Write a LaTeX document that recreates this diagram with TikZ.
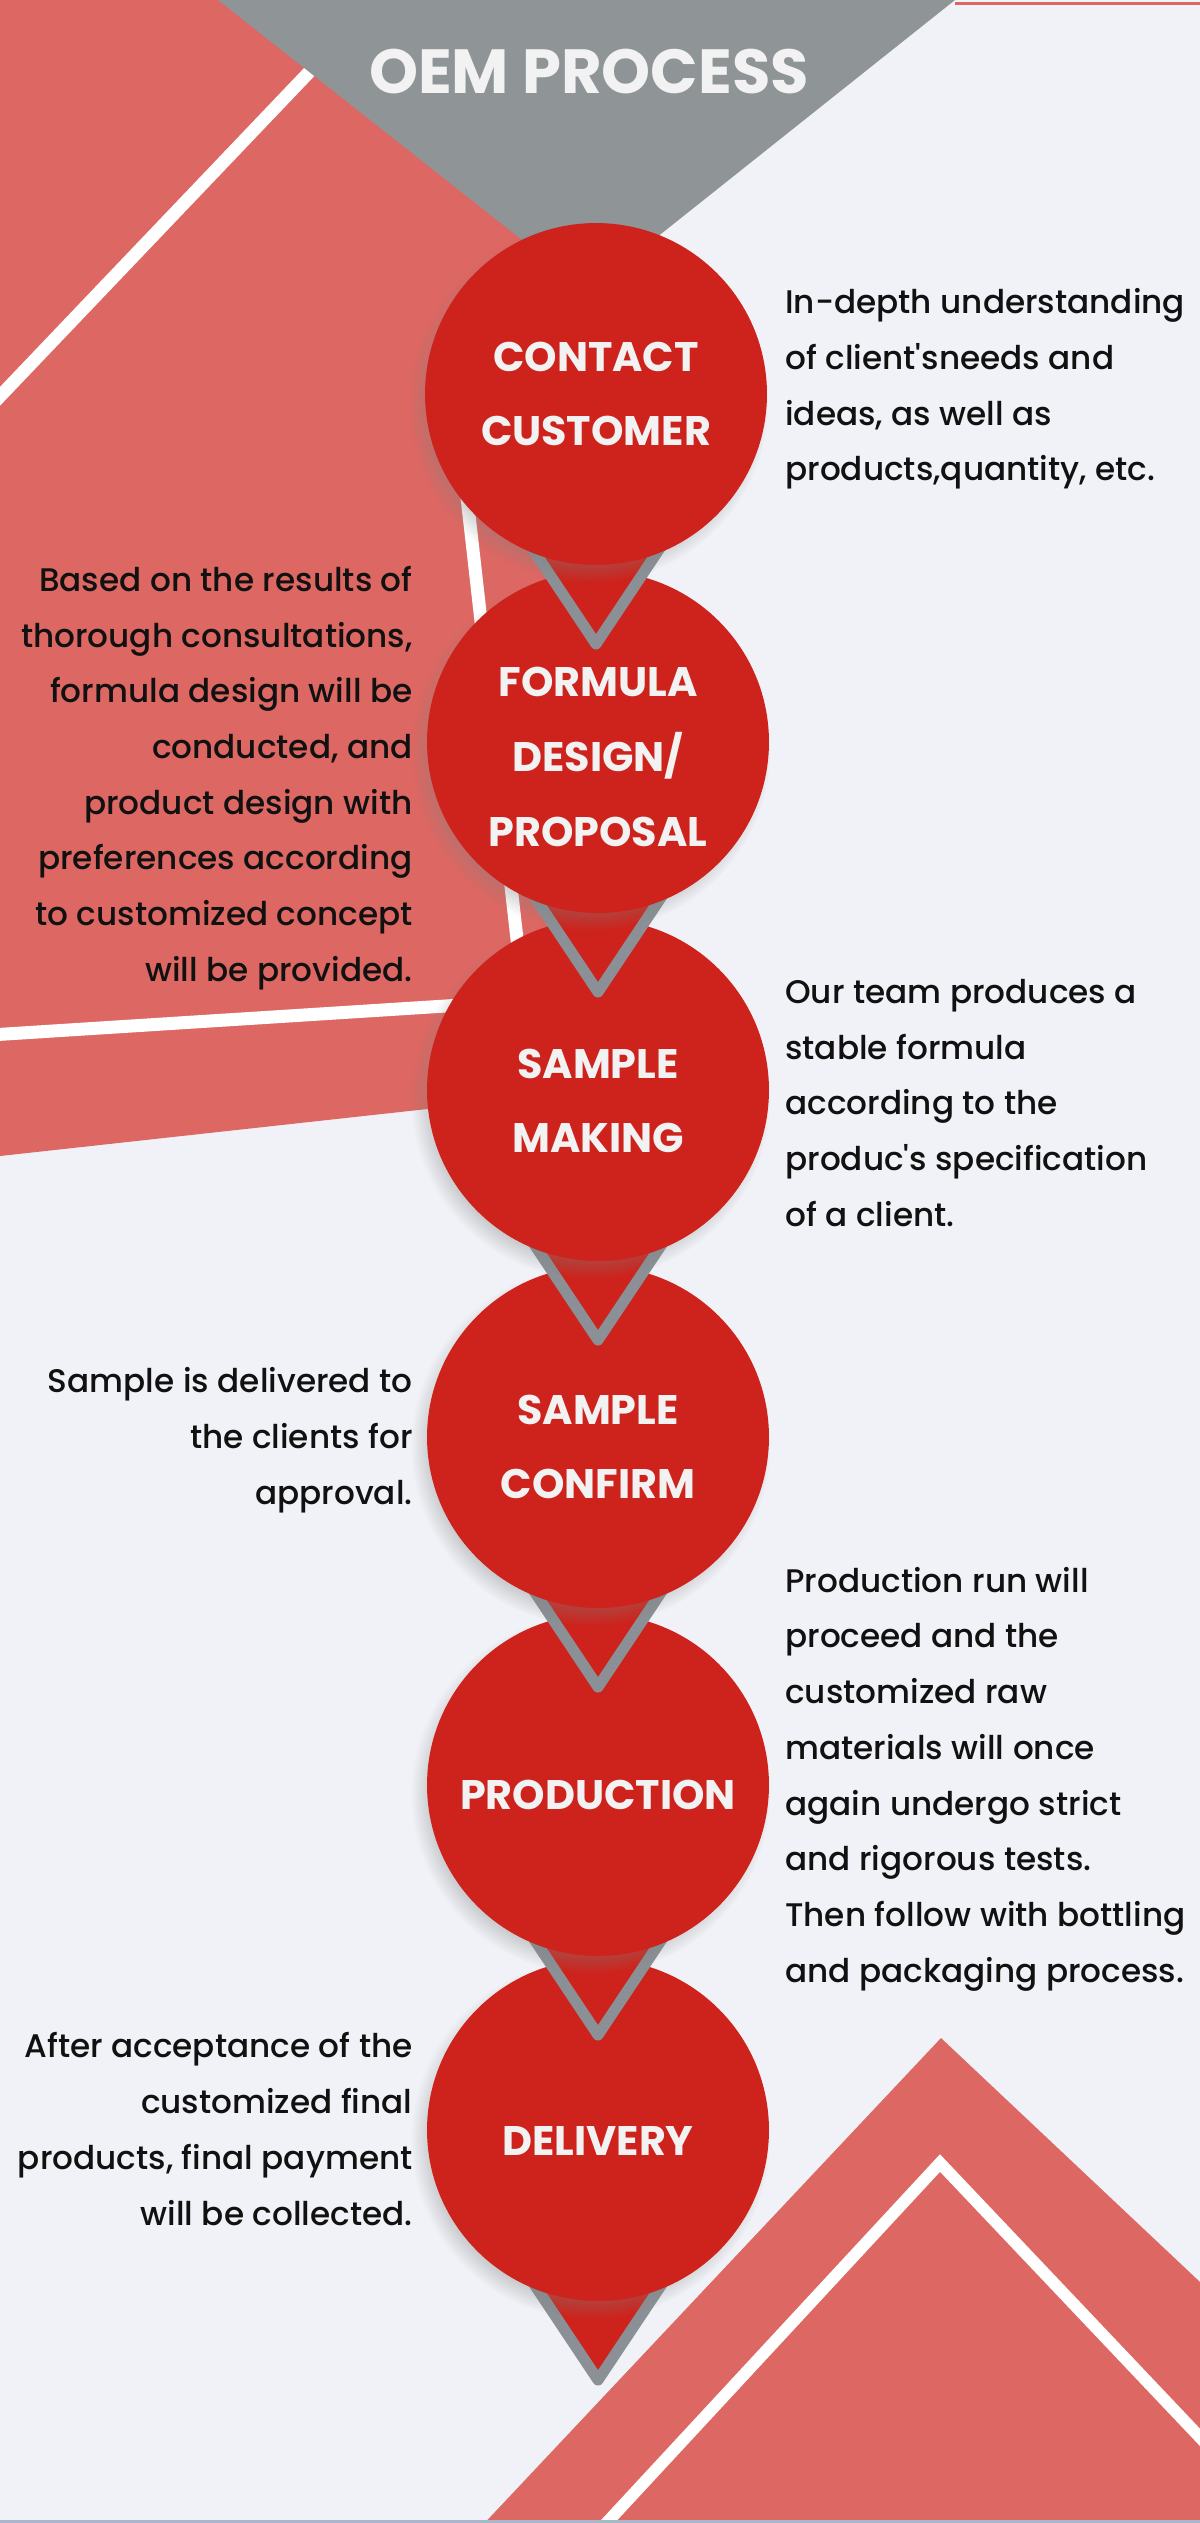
\documentclass[tikz,border=0pt]{standalone}
\usepackage{fontspec}
\setmainfont{Poppins}
\newfontfamily\notefont{Poppins Medium}
\usetikzlibrary{shadows}

\definecolor{pagebg}{HTML}{F1F2F7}
\definecolor{rosered}{HTML}{DD6762}
\definecolor{topgrey}{HTML}{8F9596}
\definecolor{stepred}{HTML}{CE231C}
\definecolor{vgrey}{HTML}{8A9095}
\definecolor{bottomline}{HTML}{A9B7CA}
\definecolor{labelwhite}{HTML}{F2F2F2}
\definecolor{notetext}{HTML}{111111}

\tikzstyle{stepcircle} = [circle, minimum size=6.84cm, inner sep=0pt, fill=stepred, circular drop shadow={shadow xshift=-4pt, shadow yshift=-5pt, shadow scale=1.05, opacity=0.45}]
\tikzstyle{steplabel} = [text=labelwhite, align=center, inner sep=0pt, font=\fontsize{23.5}{42.5}\selectfont\bfseries]
\tikzstyle{vline} = [draw=vgrey, line width=0.22cm, line join=round, line cap=round]
\tikzstyle{notes} = [text=notetext, font=\notefont\fontsize{18.6}{31.7}\selectfont, inner sep=0pt]
\tikzstyle{notesleft} = [notes, align=right, anchor=east]
\tikzstyle{notesright} = [notes, align=left, anchor=west]
\tikzstyle{stripe} = [draw=white, line width=0.26cm]

% red V under a step circle, #1 = centre of that circle
\newcommand{\steppointer}[1]{%
  \fill[stepred] ([shift={(-80,130)}]#1) -- ([shift={(0,250)}]#1) -- ([shift={(80,130)}]#1) -- cycle;
  \draw[vline] ([shift={(-80,130)}]#1) -- ([shift={(0,250)}]#1) -- ([shift={(80,130)}]#1);
}

\begin{document}
\begin{tikzpicture}[x=0.02cm, y=-0.02cm]

    \useasboundingbox (0,0) rectangle (1200,2523);
    \clip (0,0) rectangle (1200,2523);

    % Background
    \fill[pagebg] (0,0) rectangle (1200,2523);
    \fill[rosered] (0,0) -- (600,0) -- (600,1090) -- (0,1156) -- cycle;
    \draw[stripe] (335,45) -- (-15,412);
    \draw[stripe] (456,400) -- (524,1001) -- (-10,1035);
    \fill[pagebg] (600,0) -- (955,0) -- (588,292) -- (600,300) -- cycle;
    \fill[topgrey] (218,0) -- (955,0) -- (588,292) -- cycle;
    \draw[rosered, line width=0.06cm] (955,3) -- (1200,3);
    \fill[rosered] (941,2038) -- (1200,2282) -- (1200,2530) -- (478,2530) -- cycle;
    \draw[draw=white, line width=0.24cm] (600,2530) -- (940,2163) -- (1212,2450);
    \draw[bottomline, line width=0.06cm] (0,2521) -- (1200,2521);

    % Title
    \node[font=\fontsize{35.5}{40}\selectfont\bfseries, text=labelwhite] (title) at (589,72) {OEM PROCESS};

    % Steps, from the bottom up
    \coordinate (p6) at (598,2130);
    \coordinate (p5) at (598,1785);
    \coordinate (p4) at (598,1437);
    \coordinate (p3) at (598,1090);
    \coordinate (p2) at (598,742);
    \coordinate (p1) at (596,394);

    \steppointer{p6}
    \node (delivery) [stepcircle, label={[steplabel, yshift=-0.22cm]center:DELIVERY}] at (p6) {};
    \steppointer{p5}
    \node (production) [stepcircle, label={[steplabel, yshift=-0.2cm]center:PRODUCTION}] at (p5) {};
    \steppointer{p4}
    \node (confirm) [stepcircle, label={[steplabel, yshift=-0.2cm]center:{SAMPLE\\CONFIRM}}] at (p4) {};
    \steppointer{p3}
    \node (making) [stepcircle, label={[steplabel, yshift=-0.22cm]center:{SAMPLE\\MAKING}}] at (p3) {};
    \steppointer{p2}
    \node (formula) [stepcircle, label={[steplabel, yshift=-0.3cm]center:{FORMULA\\DESIGN/\\PROPOSAL}}] at (p2) {};
    \steppointer{p1}
    \node (contact) [stepcircle, label={[steplabel]center:{CONTACT\\CUSTOMER}}] at (p1) {};

    % Notes
    \node (contactnote) [notesright] at (785,389) {In-depth understanding\\of client'sneeds and\\ideas, as well as\\products,quantity, etc.};
    \node (formulanote) [notesleft] at (413,778) {Based on the results of\\thorough consultations,\\formula design will be\\conducted, and\\product design with\\preferences according\\to customized concept\\will be provided.};
    \node (makingnote) [notesright] at (785,1103) {Our team produces a\\stable formula\\according to the\\produc's specification\\of a client.};
    \node (confirmnote) [notesleft] at (413,1440) {Sample is delivered to\\the clients for\\approval.};
    \node (productionnote) [notesright] at (785,1779) {Production run will\\proceed and the\\customized raw\\materials will once\\again undergo strict\\and rigorous tests.\\Then follow with bottling\\and packaging process.};
    \node (deliverynote) [notesleft] at (413,2129) {After acceptance of the\\customized final\\products, final payment\\will be collected.};

\end{tikzpicture}
\end{document}
